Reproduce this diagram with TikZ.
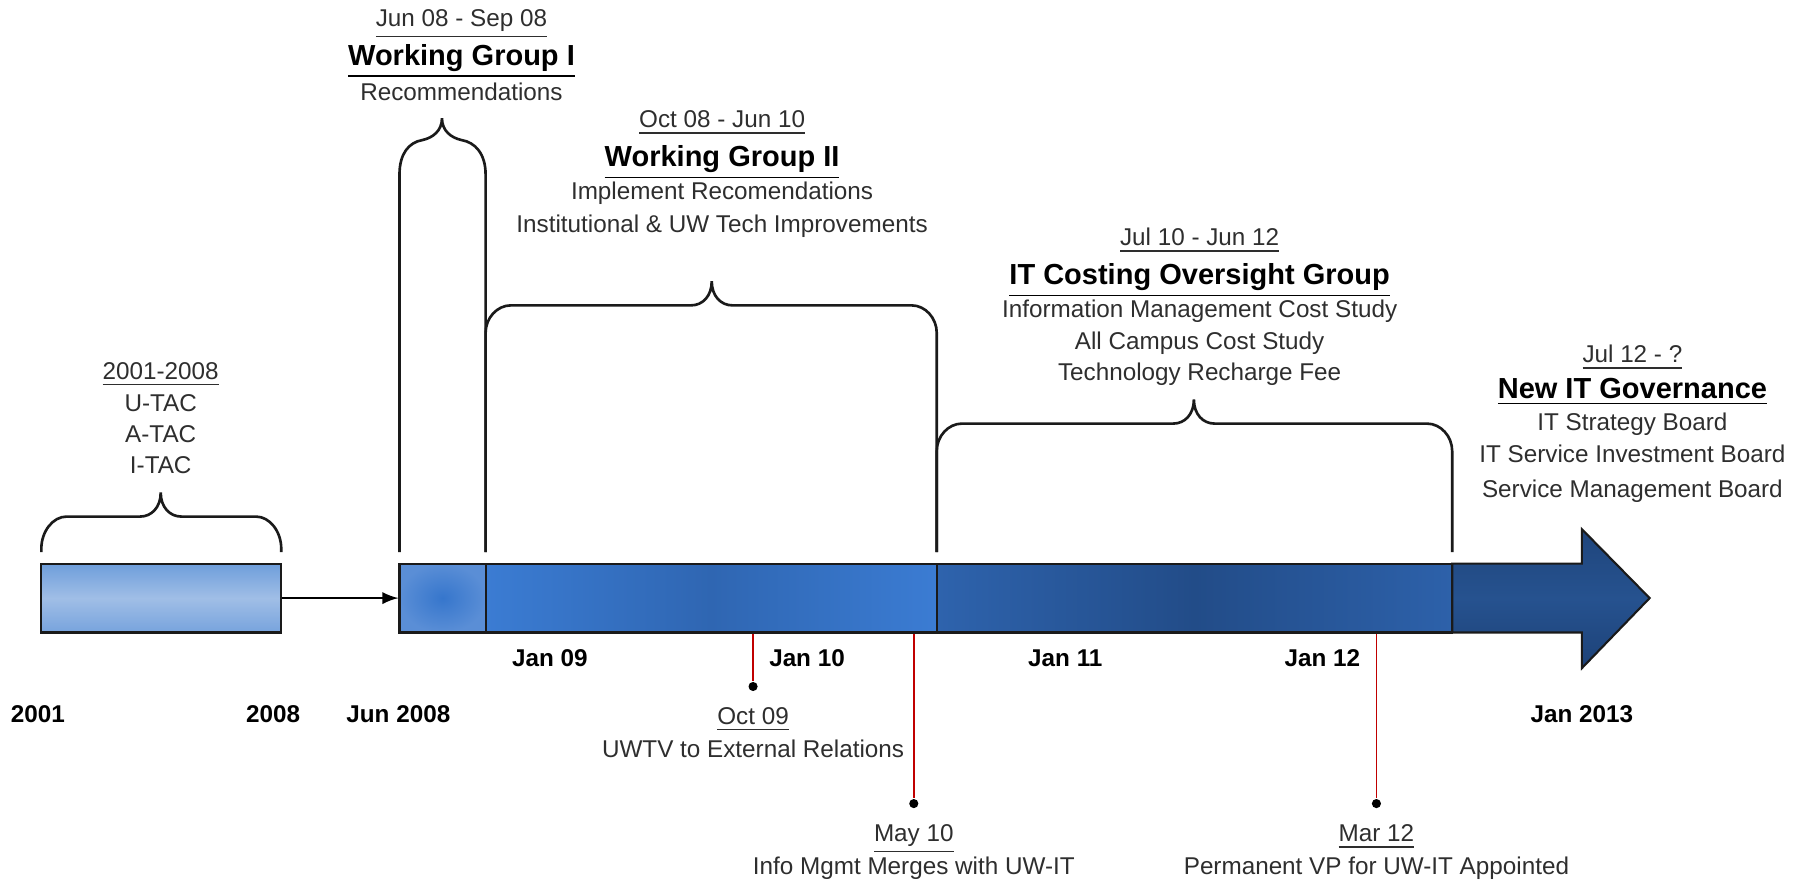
\documentclass[tikz,border=0pt]{standalone}
\usepackage{fontspec}
\setmainfont{Liberation Sans}
\usetikzlibrary{fit}

\definecolor{txtgray}{HTML}{2E2E2E}
\definecolor{barline}{HTML}{1A1A1A}
\definecolor{evred}{HTML}{C00000}
\definecolor{tacedge}{HTML}{6E9EDB}
\definecolor{tacmid}{HTML}{A0BEE6}
\definecolor{tacbot}{HTML}{77A3DD}
\definecolor{arrtop}{HTML}{1F457C}
\definecolor{arrmid}{HTML}{26528F}
\definecolor{arrbot}{HTML}{1D4278}
\definecolor{wgoin}{HTML}{3676CC}
\definecolor{wgoout}{HTML}{5A8ED6}
\definecolor{wgtside}{HTML}{3B7CD3}
\definecolor{wgtmid}{HTML}{2F66B2}
\definecolor{itcleft}{HTML}{2E63AD}
\definecolor{itcmid}{HTML}{224C88}
\definecolor{itcright}{HTML}{2D61AA}

\begin{document}
\begin{tikzpicture}[x=0.01148cm, y=-0.01148cm, line width=0.75pt,
    lbl/.style={font=\fontsize{6.9}{8}\selectfont, text=txtgray, inner sep=0pt, text height=4.9pt, text depth=0.2pt},
    ttl/.style={font=\fontsize{8.25}{9}\selectfont\bfseries, inner sep=0pt, text height=5.9pt, text depth=0.2pt},
    axl/.style={font=\fontsize{6.9}{8}\selectfont\bfseries, inner sep=0pt, text height=4.9pt, text depth=0.2pt},
    bar/.style={draw=barline, line width=0.6pt, inner sep=0pt},
    brc/.style={draw=barline, line width=0.75pt},
    evline/.style={draw=evred, line width=0.45pt},
    evdot/.style={circle, fill=black, inner sep=0pt, minimum size=2.6pt}]
        \useasboundingbox (0,0) rectangle (1568,767);

        % braces
        \draw[brc] (36,481) -- (36,478) .. controls (36,463) and (46,450) .. (58,450) -- (122,450)
            .. controls (132,450) and (140,442) .. (140,429) .. controls (140,442) and (148,450) .. (158,450)
            -- (223,450) .. controls (235,450) and (245,463) .. (245,478) -- (245,481);
        \draw[brc] (348,481) -- (348,152) .. controls (348,134) and (356,124) .. (368,122)
            .. controls (377,120) and (385,114) .. (385,103) .. controls (385,114) and (393,120) .. (402,122)
            .. controls (414,124) and (423,134) .. (423,152) -- (423,481);
        \draw[brc] (423,481) -- (423,290) .. controls (423,277) and (433,266) .. (445,266) -- (602,266)
            .. controls (612,266) and (620,258) .. (620,245) .. controls (620,258) and (628,266) .. (638,266)
            -- (794,266) .. controls (806,266) and (816,277) .. (816,290) -- (816,481);
        \draw[brc] (816,481) -- (816,393) .. controls (816,380) and (826,369) .. (838,369) -- (1022,369)
            .. controls (1032,369) and (1040,361) .. (1040,348) .. controls (1040,361) and (1048,369) .. (1058,369)
            -- (1243,369) .. controls (1255,369) and (1265,380) .. (1265,393) -- (1265,481);

        % timeline
        \node[bar, fit={(36,491) (245,551)}, top color=tacedge, bottom color=tacbot, middle color=tacmid] (tac) {};
        \path[bar, top color=arrtop, bottom color=arrbot, middle color=arrmid]
            (1265,491) -- (1378,491) -- (1378,461) -- (1437,521) -- (1378,582) -- (1378,551) -- (1265,551) -- cycle;
        \node[bar, fit={(348,491) (423,551)}, inner color=wgoin, outer color=wgoout] (wg1) {};
        \node[bar, fit={(423,491) (816,551)}, left color=wgtside, right color=wgtside, middle color=wgtmid] (wg2) {};
        \node[bar, fit={(816,491) (1265,551)}, left color=itcleft, right color=itcright, middle color=itcmid] (itc) {};

        \draw[-latex, line width=0.6pt] (tac) -- (wg1);

        % events
        \node[evdot] (oct) at (656,598) {};
        \draw[evline] (oct) -- (oct |- wg2.south);
        \node[evdot] (may) at (796,700) {};
        \draw[evline] (may) -- (may |- wg2.south);
        \node[evdot] (mar) at (1199,700) {};
        \draw[evline] (mar) -- (mar |- itc.south);

        % axis labels
        \node[axl] (y01) at (33,622) {2001};
        \node[axl] (y08) at (238,622) {2008};
        \node[axl] (j08) at (347,622) {Jun 2008};
        \node[axl] (j09) at (479,573) {Jan 09};
        \node[axl] (j10) at (703,573) {Jan 10};
        \node[axl] (j11) at (928,573) {Jan 11};
        \node[axl] (j12) at (1152,573) {Jan 12};
        \node[axl] (j13) at (1378,622) {Jan 2013};

        % groups
        \node[lbl] (tacd) at (140,323) {\underline{2001-2008}};
        \node[lbl] (utac) at (140,351) {U-TAC};
        \node[lbl] (atac) at (140,378) {A-TAC};
        \node[lbl] (itac) at (140,405) {I-TAC};

        \node[lbl] (wg1d) at (402,16) {\underline{Jun 08 - Sep 08}};
        \node[ttl] (wg1t) at (402,48) {\underline{Working Group I}};
        \node[lbl] (wg1a) at (402,80) {Recommendations};

        \node[lbl] (wg2d) at (629,104) {\underline{Oct 08 - Jun 10}};
        \node[ttl] (wg2t) at (629,136) {\underline{Working Group II}};
        \node[lbl] (wg2a) at (629,167) {Implement Recomendations};
        \node[lbl] (wg2b) at (629,195) {Institutional \& UW Tech Improvements};

        \node[lbl] (itcd) at (1045,207) {\underline{Jul 10 - Jun 12}};
        \node[ttl] (itct) at (1045,239) {\underline{IT Costing Oversight Group}};
        \node[lbl] (itca) at (1045,269) {Information Management Cost Study};
        \node[lbl] (itcb) at (1045,297) {All Campus Cost Study};
        \node[lbl] (itcc) at (1045,324) {Technology Recharge Fee};

        \node[lbl] (govd) at (1422,309) {\underline{Jul 12 - ?}};
        \node[ttl] (govt) at (1422,338) {\underline{New IT Governance}};
        \node[lbl] (gova) at (1422,368) {IT Strategy Board};
        \node[lbl] (govb) at (1422,396) {IT Service Investment Board};
        \node[lbl] (govc) at (1422,426) {Service Management Board};

        \node[lbl] (octd) at (656,624) {\underline{Oct 09}};
        \node[lbl] (octa) at (656,653) {UWTV to External Relations};
        \node[lbl] (mayd) at (796,726) {\underline{May 10}};
        \node[lbl] (maya) at (796,755) {Info Mgmt Merges with UW-IT};
        \node[lbl] (mard) at (1199,726) {\underline{Mar 12}};
        \node[lbl] (mara) at (1199,755) {Permanent VP for UW-IT Appointed};
\end{tikzpicture}
\end{document}
